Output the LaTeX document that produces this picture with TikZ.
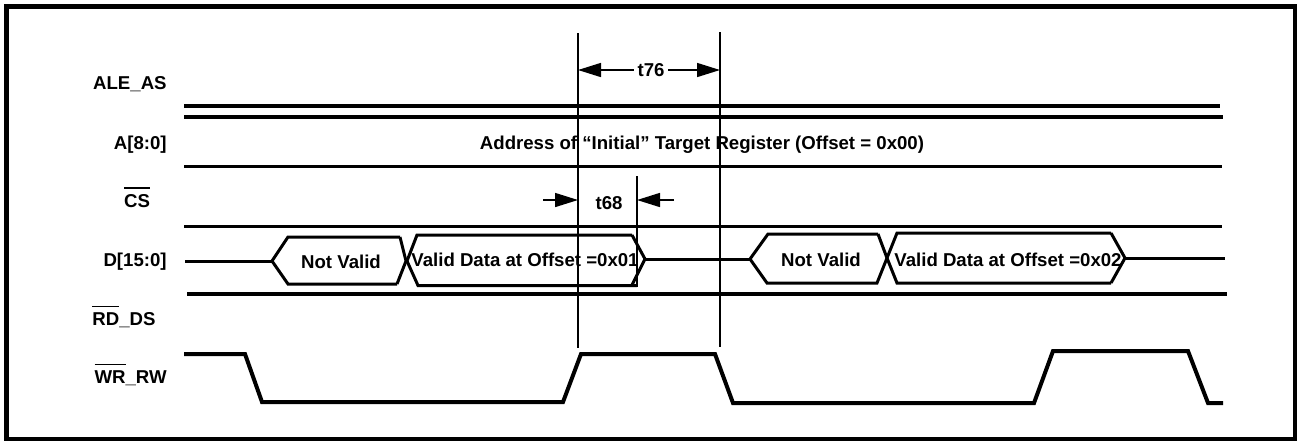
\documentclass[tikz,border=0pt]{standalone}
\usepackage{fontspec}
\setmainfont{Liberation Sans}
\usetikzlibrary{arrows.meta}

\tikzset{
  sig/.style={line width=0.8mm},
  thinsig/.style={line width=0.6mm},
  guide/.style={line width=0.3mm},
  dimtip/.style={line width=0.3mm, -{Triangle[length=4.6mm,width=2.8mm]}},
  dimboth/.style={line width=0.3mm, {Triangle[length=4.6mm,width=2.8mm]}-{Triangle[length=4.6mm,width=2.8mm]}},
}
\newcommand{\lowact}[1]{\leavevmode\setbox0\hbox{#1}\rlap{\rule[\dimexpr\ht0+3pt\relax]{\wd0}{0.8pt}}\box0}

\begin{document}
\begin{tikzpicture}[x=0.02cm, y=-0.02cm,
    every node/.style={font=\fontsize{10.6}{12}\selectfont\bfseries, inner sep=0pt}]

    \useasboundingbox (0,0) rectangle (1298,441);

    % frame
    \draw [line width=0.9mm] (6.5,6.5) rectangle (1295,439);

    % signal names
    \node (nale) [anchor=base east] at (167,89) {ALE\_AS};
    \node (naddr) [anchor=base east] at (167,149) {A[8:0]};
    \node (ncs) [anchor=base] at (137,207) {\lowact{CS}};
    \node (ndata) [anchor=base east] at (167,266) {D[15:0]};
    \node (nrd) [anchor=base] at (124,325) {\lowact{RD}\_DS};
    \node (nwr) [anchor=base east] at (167,383) {\lowact{WR}\_RW};

    % static lines
    \draw [sig] (184,106) -- (1220,106);
    \draw [sig] (184,117) -- (1223,117);
    \draw [thinsig] (184,166) -- (1222,166);
    \draw [thinsig] (184,226) -- (1222,226);
    \draw [sig] (187,294) -- (1227,294);

    \node (taddr) [anchor=base] at (702,149) {Address of “Initial” Target Register (Offset = 0x00)};

    % data bus
    \draw [thinsig] (185,261) -- (272,261);
    \draw [thinsig] (400,237) -- (288,237) -- (272,261) -- (288,284) -- (397,284);
    \draw [thinsig] (400,237) -- (406,261) -- (397,284);
    \draw [thinsig] (632,235) -- (417,235) -- (407,261) -- (418,285.5) -- (637,285.5);
    \draw [thinsig] (632,235) -- (645,259) -- (632,285);
    \draw [thinsig] (645,259) -- (750,259);
    \draw [thinsig] (878,234) -- (768,234) -- (750,259) -- (767,283) -- (878,283);
    \draw [thinsig] (878,234) -- (887,258) -- (877,283);
    \draw [thinsig] (1111,233) -- (897,233) -- (887,258) -- (897,283) -- (1111,283);
    \draw [thinsig] (1111,233) -- (1125,258) -- (1111,283);
    \draw [thinsig] (1125,258) -- (1225,258);

    \node (nv1) at (341,262) {Not Valid};
    \node (vd1) at (525,260) {Valid Data at Offset =0x01};
    \node (nv2) at (821,260) {Not Valid};
    \node (vd2) at (1008,260) {Valid Data at Offset =0x02};

    % write strobe
    \draw [sig] (184,354) -- (245,354) -- (262,402) -- (563,402) -- (581,354)
        -- (715,354) -- (733,403) -- (1034,403) -- (1053,351) -- (1188,351)
        -- (1208,403) -- (1223,403);

    % timing guides
    \draw [guide] (578,33) -- (578,348);
    \draw [guide] (720,32) -- (720,347);
    \draw [guide] (637,176) -- (637,287);

    % t76
    \coordinate (l76) at (578,70);
    \coordinate (r76) at (720,70);
    \draw [dimboth] (l76) -- (r76);
    \node (t76) [fill=white, inner xsep=2pt, inner ysep=1pt] at (651,70) {t76};

    % t68
    \coordinate (l68) at (543,200);
    \coordinate (l68e) at (578,200);
    \coordinate (r68) at (674,200);
    \coordinate (r68e) at (637,200);
    \draw [dimtip] (l68) -- (l68e);
    \draw [dimtip] (r68) -- (r68e);
    \node (t68) at (609,203.5) {t68};

\end{tikzpicture}
\end{document}
